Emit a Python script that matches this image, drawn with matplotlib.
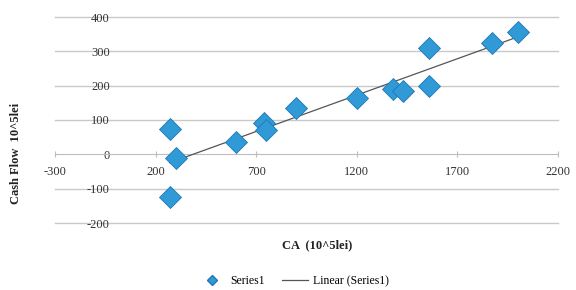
import numpy as np
import matplotlib
matplotlib.use("Agg")
import matplotlib.pyplot as plt
from matplotlib.lines import Line2D

ca = [270, 300, 270, 600, 740, 750, 900, 1200, 1380, 1430, 1560, 1560, 1870, 2000]
cash_flow = [75, -12, -125, 35, 90, 70, 135, 165, 190, 185, 310, 200, 325, 355]
xticks = [-300, 200, 700, 1200, 1700, 2200]
yticks = [-200, -100, 0, 100, 200, 300, 400]

plt.rcParams['font.family'] = ['Liberation Serif', 'DejaVu Serif']

fig = plt.figure(figsize=(5.76, 2.9), dpi=100)
ax = fig.add_axes([55/576, 1 - 223/290, 503/576, 206/290])

ax.set_xlim(-300, 2200)
ax.set_ylim(-200, 400)

for y in yticks:
    if y != 0:
        ax.axhline(y, color='#c9c9c9', lw=1.0, zorder=1, clip_on=False)

coef = np.polyfit(ca, cash_flow, 1)
xs = np.array([min(ca), max(ca)])
ax.plot(xs, np.polyval(coef, xs), color='#555555', lw=0.9, zorder=3)

ax.scatter(ca, cash_flow, marker='D', s=125, color='#2f9ad6',
           edgecolor='#1f77b4', linewidth=0.6, zorder=4)

for s in ['top', 'right']:
    ax.spines[s].set_visible(False)
ax.spines['left'].set_position(('data', 0))
ax.spines['left'].set_color('none')
ax.spines['bottom'].set_position(('data', 0))
ax.spines['bottom'].set_color('#bdbdbd')

ax.set_xticks(xticks)
ax.set_xticklabels([str(v) for v in xticks])
ax.set_yticks(yticks)
ax.set_yticklabels([str(v) for v in yticks])
ax.tick_params(axis='x', direction='inout', length=5, color='#bdbdbd', labelsize=9, labelcolor='#333333', pad=6)
ax.tick_params(axis='y', length=0, labelsize=9, labelcolor='#333333', pad=4)

fig.text(16/576, 1 - 153/290, 'Cash Flow  10^5lei', rotation=90, ha='center', va='center',
         fontsize=9, fontweight='bold', color='#222222')
fig.text(317/576, 1 - 245/290, 'CA  (10^5lei)', ha='center', va='center',
         fontsize=9, fontweight='bold', color='#222222')

handles = [Line2D([], [], marker='D', color='#2f9ad6', markeredgecolor='#1f77b4', ls='none', markersize=5.5),
           Line2D([], [], color='#555555', lw=0.9)]
fig.legend(handles, ['Series1', 'Linear (Series1)'], loc='center', bbox_to_anchor=(294/576, 1 - 281/290),
           ncol=2, frameon=False, fontsize=8.5, handlelength=2.2, columnspacing=1.5, handletextpad=0.4)

fig.savefig('out.png', dpi=100)
